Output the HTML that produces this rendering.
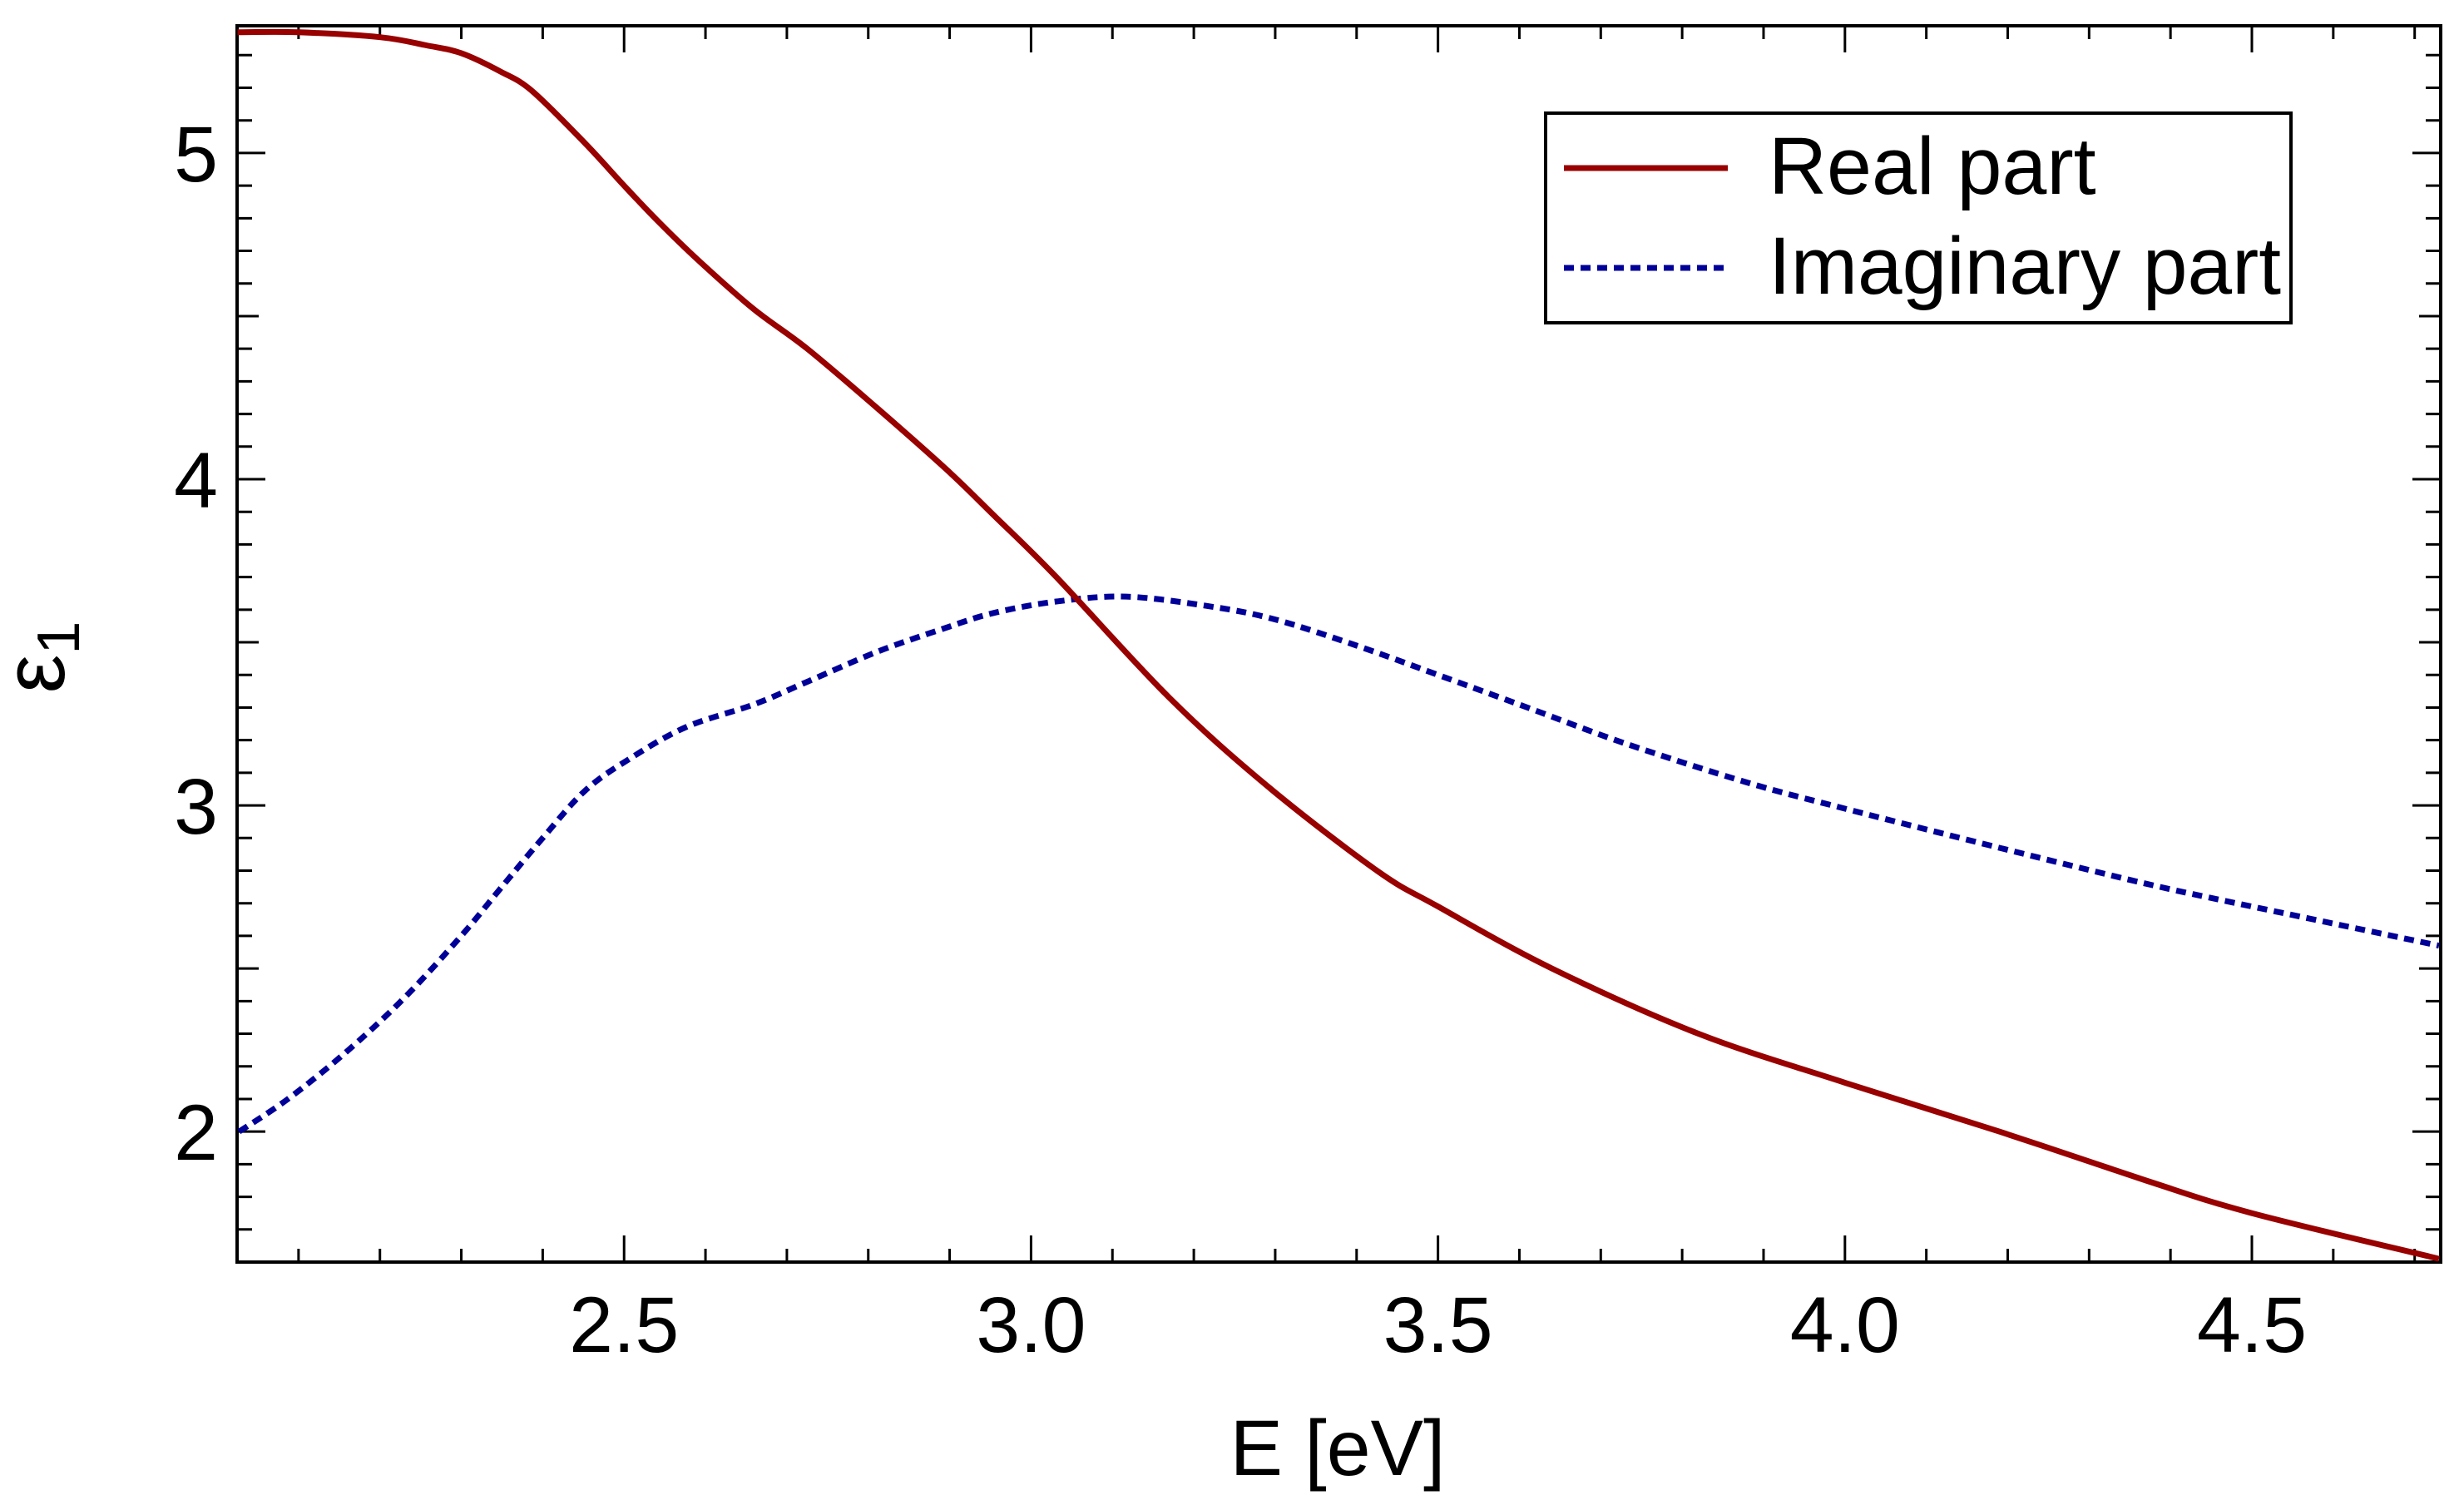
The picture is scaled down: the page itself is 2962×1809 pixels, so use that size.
<!DOCTYPE html>
<html><head><meta charset="utf-8"><style>
html,body{margin:0;padding:0;background:#fff;}
svg{display:block;font-family:"Liberation Sans","DejaVu Sans",sans-serif;}
</style></head><body>
<svg id="chart" width="2962" height="1809" viewBox="0 0 2962 1809" xmlns="http://www.w3.org/2000/svg">
<g id="axes"></g>
<g id="series"></g>
<text x="1608" y="1773" font-size="95" text-anchor="middle">E [eV]</text>
<text transform="translate(77,790) rotate(-90)" font-size="105" text-anchor="middle">ε<tspan font-size="72" dy="18">1</tspan></text>
<g>
<rect x="1858" y="136" width="896" height="252" fill="#fff" stroke="#000" stroke-width="4"/>
<line x1="1880" y1="202" x2="2077" y2="202" stroke="#990000" stroke-width="7"/>
<text x="2126" y="233" font-size="97">Real part</text>
<line x1="1880" y1="322" x2="2077" y2="322" stroke="#000099" stroke-width="7" stroke-dasharray="12 8"/>
<text x="2126" y="353" font-size="97" textLength="616" lengthAdjust="spacingAndGlyphs">Imaginary part</text>
</g>
</svg>
<script>
const realE = [2.025,2.10,2.20,2.257,2.30,2.348,2.387,2.452,2.50,2.544,2.596,2.66,2.725,2.81,2.896,2.954,3.031,3.17,3.29,3.425,3.50,3.64,3.82,4.0,4.19,4.37,4.5,4.73];
const realV = [5.37,5.37,5.355,5.33,5.306,5.25,5.19,5.03,4.90,4.785,4.66,4.52,4.40,4.22,4.03,3.89,3.70,3.33,3.06,2.80,2.69,2.50,2.30,2.15,2.00,1.85,1.75,1.61];
const imagE = [2.027,2.087,2.159,2.23,2.30,2.348,2.40,2.452,2.505,2.576,2.66,2.726,2.81,2.89,2.954,3.031,3.117,3.22,3.30,3.40,3.50,3.61,3.73,3.88,4.0,4.19,4.37,4.5,4.73];
const imagV = [2.00,2.10,2.245,2.41,2.60,2.745,2.90,3.045,3.14,3.24,3.31,3.38,3.47,3.54,3.59,3.625,3.64,3.61,3.57,3.49,3.40,3.30,3.19,3.07,2.99,2.87,2.76,2.69,2.57];
const xTickLabels = ["2.5","3.0","3.5","4.0","4.5"];
const yTickLabels = ["2","3","4","5"];

const NS="http://www.w3.org/2000/svg";
const L=285,R=2934,T=31,B=1517;
const X0=2.0245,X1=4.732,Y0=1.60,Y1=5.39;
const sx=v=>L+(v-X0)/(X1-X0)*(R-L);
const sy=v=>B-(v-Y0)/(Y1-Y0)*(B-T);
function mk(tag,attrs,parent){const e=document.createElementNS(NS,tag);for(const k in attrs)e.setAttribute(k,attrs[k]);parent.appendChild(e);return e;}
const axes=document.getElementById('axes');
const series=document.getElementById('series');
for(let i=0;i<=30;i++){
  const v=Math.round((2.1+i*0.1)*1000)/1000; if(v>X1) break;
  const major=Math.abs(v*2-Math.round(v*2))<1e-6;
  const len=major?32:16; const x=sx(v);
  const t1=mk('line',{x1:x,y1:B,x2:x,y2:B-len,stroke:'#000','stroke-width':3},axes);
  
  
  const t2=mk('line',{x1:x,y1:T,x2:x,y2:T+len,stroke:'#000','stroke-width':3},axes);
  
  
}
xTickLabels.forEach(s=>{
  const t=mk('text',{x:sx(parseFloat(s)),y:1625,'font-size':95,'text-anchor':'middle'},axes);
  t.textContent=s;
  
  
});
for(let i=0;i<=40;i++){
  const v=Math.round((1.7+i*0.1)*1000)/1000; if(v>Y1) break;
  const r=Math.round(v*10);
  const len=(r%10===0)?34:(r%5===0?26:18); const y=sy(v);
  const t1=mk('line',{x1:L,y1:y,x2:L+len,y2:y,stroke:'#000','stroke-width':3},axes);
  
  
  const t2=mk('line',{x1:R,y1:y,x2:R-len,y2:y,stroke:'#000','stroke-width':3},axes);
  
  
}
yTickLabels.forEach(s=>{
  const t=mk('text',{x:262,y:sy(parseFloat(s))+34,'font-size':95,'text-anchor':'end'},axes);
  t.textContent=s;
  
  
});
const frame=mk('rect',{x:L,y:T,width:R-L,height:B-T,fill:'none',stroke:'#000','stroke-width':4},axes);


function pathFrom(xs,ys){
  const p=xs.map((x,i)=>[sx(x),sy(ys[i])]);
  let d='M'+p[0][0].toFixed(1)+','+p[0][1].toFixed(1);
  for(let i=0;i<p.length-1;i++){
    const p0=p[Math.max(0,i-1)],p1=p[i],p2=p[i+1],p3=p[Math.min(p.length-1,i+2)];
    const c1x=p1[0]+(p2[0]-p0[0])/6,c1y=p1[1]+(p2[1]-p0[1])/6;
    const c2x=p2[0]-(p3[0]-p1[0])/6,c2y=p2[1]-(p3[1]-p1[1])/6;
    d+=` C${c1x.toFixed(1)},${c1y.toFixed(1)} ${c2x.toFixed(1)},${c2y.toFixed(1)} ${p2[0].toFixed(1)},${p2[1].toFixed(1)}`;
  }
  return d;
}
const imag=mk('path',{d:pathFrom(imagE,imagV),fill:'none',stroke:'#000099','stroke-width':7,'stroke-dasharray':'12 8'},series);


const real=mk('path',{d:pathFrom(realE,realV),fill:'none',stroke:'#990000','stroke-width':7},series);


</script>
</body></html>
